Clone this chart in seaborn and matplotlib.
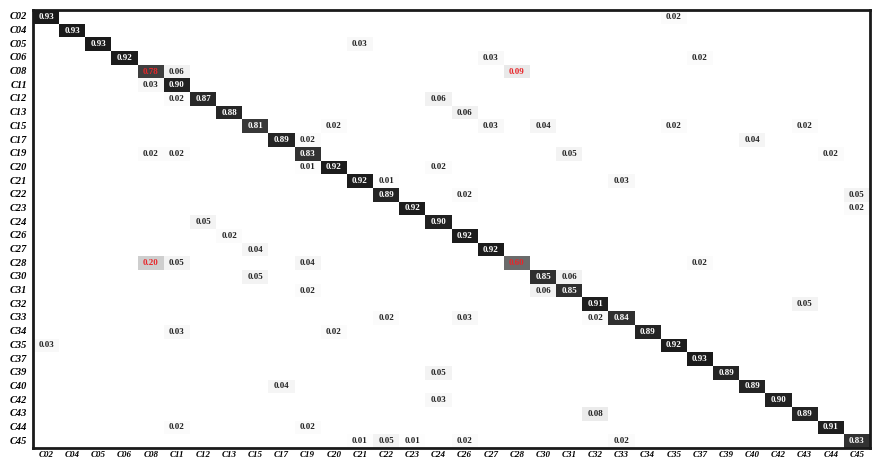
import numpy as np
import pandas as pd
import matplotlib
matplotlib.use("Agg")
import matplotlib.pyplot as plt
from matplotlib.colors import LinearSegmentedColormap
import seaborn as sns

labels = ["C02", "C04", "C05", "C06", "C08", "C11", "C12", "C13", "C15", "C17",
          "C19", "C20", "C21", "C22", "C23", "C24", "C26", "C27", "C28", "C30",
          "C31", "C32", "C33", "C34", "C35", "C37", "C39", "C40", "C42", "C43",
          "C44", "C45"]

diag_vals = [0.93, 0.93, 0.93, 0.92, 0.78, 0.90, 0.87, 0.88, 0.81, 0.89,
             0.83, 0.92, 0.92, 0.89, 0.92, 0.90, 0.92, 0.92, 0.60, 0.85,
             0.85, 0.91, 0.84, 0.89, 0.92, 0.93, 0.89, 0.89, 0.90, 0.89,
             0.91, 0.83]

off_rows = ["C02", "C05", "C06", "C06", "C08", "C08", "C11", "C12", "C12", "C13",
            "C15", "C15", "C15", "C15", "C15", "C17", "C17", "C19", "C19", "C19",
            "C19", "C20", "C20", "C21", "C21", "C22", "C22", "C23", "C24", "C26",
            "C27", "C28", "C28", "C28", "C28", "C30", "C30", "C31", "C31", "C32",
            "C33", "C33", "C33", "C34", "C34", "C35", "C39", "C40", "C42", "C43",
            "C44", "C44", "C45", "C45", "C45", "C45", "C45"]
off_cols = ["C35", "C21", "C27", "C37", "C11", "C28", "C08", "C11", "C24", "C26",
            "C20", "C27", "C30", "C35", "C43", "C19", "C40", "C08", "C11", "C31",
            "C44", "C19", "C24", "C22", "C33", "C26", "C45", "C45", "C12", "C13",
            "C15", "C08", "C11", "C19", "C37", "C15", "C31", "C19", "C30", "C43",
            "C22", "C26", "C32", "C11", "C20", "C02", "C24", "C17", "C24", "C32",
            "C11", "C19", "C21", "C22", "C23", "C26", "C33"]
off_vals = [0.02, 0.03, 0.03, 0.02, 0.06, 0.09, 0.03, 0.02, 0.06, 0.06,
            0.02, 0.03, 0.04, 0.02, 0.02, 0.02, 0.04, 0.02, 0.02, 0.05,
            0.02, 0.01, 0.02, 0.01, 0.03, 0.02, 0.05, 0.02, 0.05, 0.02,
            0.04, 0.20, 0.05, 0.04, 0.02, 0.05, 0.06, 0.02, 0.06, 0.05,
            0.02, 0.03, 0.02, 0.03, 0.02, 0.03, 0.05, 0.04, 0.03, 0.08,
            0.02, 0.02, 0.01, 0.05, 0.01, 0.02, 0.02]

highlight_rows = ["C08", "C08", "C28", "C28"]
highlight_cols = ["C08", "C28", "C08", "C28"]

# build matrix
df = pd.DataFrame(0.0, index=labels, columns=labels)
for lab, v in zip(labels, diag_vals):
    df.loc[lab, lab] = v
for r, c, v in zip(off_rows, off_cols, off_vals):
    df.loc[r, c] = v

annot = df.map(lambda v: f"{v:.2f}" if v > 0 else "")
mask = df.values == 0

cmap = LinearSegmentedColormap.from_list("wk", ["#ffffff", "#1a1a1a"])

plt.rcParams["font.family"] = ["Liberation Serif", "DejaVu Serif"]

fig = plt.figure(figsize=(8.8, 4.61), dpi=100)
ax = fig.add_axes([33 / 880, 1 - 448 / 461, (870 - 33) / 880, (448 - 10) / 461])

sns.heatmap(df, ax=ax, cmap=cmap, vmin=0, vmax=0.93, mask=mask,
            annot=annot.values, fmt="", cbar=False,
            annot_kws={"fontsize": 6.5, "fontweight": "bold"})

hl = set(zip(highlight_rows, highlight_cols))
for t in ax.texts:
    x, y = t.get_position()
    j, i = int(x), int(y)
    v = df.iat[i, j]
    if (labels[i], labels[j]) in hl:
        t.set_color("#e8262a")
    elif v > 0.5:
        t.set_color("white")
    else:
        t.set_color("#222222")

ax.set_xlabel("")
ax.set_ylabel("")
ax.set_xticks(np.arange(len(labels)) + 0.5)
ax.set_xticklabels(labels, rotation=0, fontsize=6.5, fontweight="bold", fontstyle="italic")
ax.set_yticks(np.arange(len(labels)) + 0.5)
ax.set_yticklabels(labels, rotation=0, fontsize=7.5, fontweight="bold", fontstyle="italic")
ax.tick_params(axis="y", length=0, pad=4)
ax.tick_params(axis="x", length=0, pad=2)

for s in ax.spines.values():
    s.set_visible(True)
    s.set_linewidth(2)
    s.set_color("#1a1a1a")

fig.savefig("out.png", dpi=100, facecolor="white")
